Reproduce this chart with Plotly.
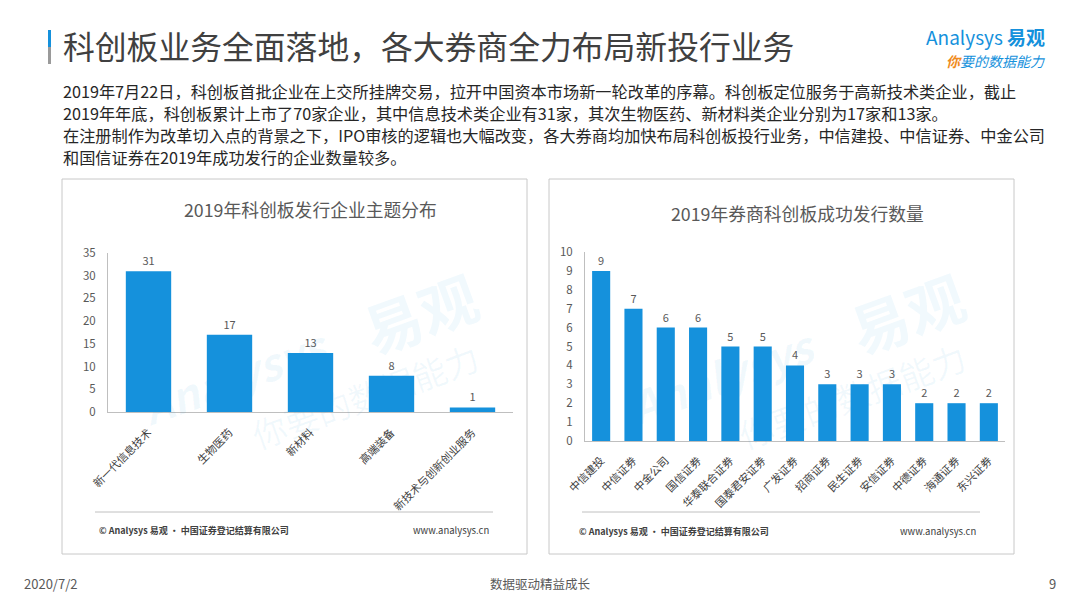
import plotly.graph_objects as go

W, H = 1080, 608
FONT = "Noto Sans CJK SC"

# ---------------- data ----------------
themes = ["新一代信息技术", "生物医药", "新材料", "高端装备", "新技术与创新创业服务"]
theme_counts = [31, 17, 13, 8, 1]

brokers = ["中信建投", "中信证券", "中金公司", "国信证券", "华泰联合证券", "国泰君安证券",
           "广发证券", "招商证券", "民生证券", "安信证券", "中德证券", "海通证券", "东兴证券"]
broker_counts = [9, 7, 6, 6, 5, 5, 4, 3, 3, 3, 2, 2, 2]

title_text = "科创板业务全面落地，各大券商全力布局新投行业务"
para_lines = [
    "2019年7月22日，科创板首批企业在上交所挂牌交易，拉开中国资本市场新一轮改革的序幕。科创板定位服务于高新技术类企业，截止",
    "2019年年底，科创板累计上市了70家企业，其中信息技术类企业有31家，其次生物医药、新材料类企业分别为17家和13家。",
    "在注册制作为改革切入点的背景之下，IPO审核的逻辑也大幅改变，各大券商均加快布局科创板投行业务，中信建投、中信证券、中金公司",
    "和国信证券在2019年成功发行的企业数量较多。",
]
chart1_title = "2019年科创板发行企业主题分布"
chart2_title = "2019年券商科创板成功发行数量"
source_text = "© Analysys 易观 · 中国证券登记结算有限公司"
site_text = "www.analysys.cn"

BAR = "#1591DC"
GRAY_TXT = "#595959"

def px(x):
    return x / W

def py(y):
    return 1 - y / H

fig = go.Figure()

fig.add_trace(go.Bar(
    x=themes, y=theme_counts, xaxis="x", yaxis="y",
    marker=dict(color=BAR, line=dict(width=0)),
    text=theme_counts, textposition="outside", cliponaxis=False,
    textfont=dict(size=11, color=GRAY_TXT, family=FONT),
    hoverinfo="x+y", showlegend=False,
))
fig.add_trace(go.Bar(
    x=brokers, y=broker_counts, xaxis="x2", yaxis="y2",
    marker=dict(color=BAR, line=dict(width=0)),
    text=broker_counts, textposition="outside", cliponaxis=False,
    textfont=dict(size=11, color=GRAY_TXT, family=FONT),
    hoverinfo="x+y", showlegend=False,
))

axis_common = dict(showline=True, linecolor="#bfbfbf", linewidth=1, showgrid=False,
                   zeroline=False, ticks="", fixedrange=True, automargin=False)

fig.update_layout(
    template="none",
    width=W, height=H, autosize=False,
    margin=dict(l=0, r=0, t=0, b=0, pad=0),
    paper_bgcolor="white", plot_bgcolor="rgba(0,0,0,0)",
    font=dict(family=FONT, color="#404040"),
    bargap=0.44, showlegend=False,
    xaxis=dict(domain=[px(108), px(513)], anchor="y", tickangle=-45,
               tickfont=dict(size=11, color="#404040"), ticklabelstandoff=9, **axis_common),
    yaxis=dict(domain=[py(412), py(253)], anchor="x", range=[0, 35], dtick=5,
               tickfont=dict(size=11.5, color=GRAY_TXT), ticklabelstandoff=9, **axis_common),
    xaxis2=dict(domain=[px(585), px(1005)], anchor="y2", tickangle=-45,
                tickfont=dict(size=11, color="#404040"), ticklabelstandoff=8, **axis_common),
    yaxis2=dict(domain=[py(441), py(252)], anchor="x2", range=[0, 10], dtick=1,
                tickfont=dict(size=11.5, color=GRAY_TXT), ticklabelstandoff=9, **axis_common),
)

shapes = []
# panel boxes
for x0, x1 in [(62, 527), (549, 1014)]:
    shapes.append(dict(type="rect", xref="paper", yref="paper",
                       x0=px(x0), x1=px(x1), y0=py(554), y1=py(179),
                       line=dict(color="#c8c8c8", width=1), fillcolor="rgba(0,0,0,0)", layer="below"))
# footer rules inside panels
for x0, x1 in [(95, 493), (582, 980)]:
    shapes.append(dict(type="line", xref="paper", yref="paper",
                       x0=px(x0), x1=px(x1), y0=py(512), y1=py(512),
                       line=dict(color="#c0c0c0", width=1)))
# title accent bar
shapes.append(dict(type="rect", xref="paper", yref="paper", x0=px(48), x1=px(51),
                   y0=py(47), y1=py(30), fillcolor="#1591DC", line=dict(width=0)))
shapes.append(dict(type="rect", xref="paper", yref="paper", x0=px(48), x1=px(51),
                   y0=py(64), y1=py(47), fillcolor="#9a9a9a", line=dict(width=0)))
fig.update_layout(shapes=shapes)

ann = []
def text(x, y, s, size, color="#404040", xanchor="left", **kw):
    ann.append(dict(x=px(x), y=py(y), xref="paper", yref="paper", text=s, showarrow=False,
                    xanchor=xanchor, yanchor="middle", font=dict(size=size, color=color, family=FONT), **kw))

# watermarks (faint)
wm = "rgba(21,145,220,0.06)"
for cx in (0, 487):
    text(235 + cx, 375, "<b><i>Analysys</i></b>", 44, wm, xanchor="center", textangle=-20)
    text(420 + cx, 312, "<b>易观</b>", 58, wm, xanchor="center", textangle=-20)
    text(365 + cx, 395, "你要的数据能力", 34, wm, xanchor="center", textangle=-20)

# main title
text(61, 45, title_text, 31.8, "#404040")
# logo
text(985, 37, "<span style='color:#1591DC'>Analysys</span> <b><span style='color:#1591DC'>易观</span></b>", 19, "#1591DC", xanchor="center")
text(995, 61, "<i><b><span style='color:#F08C1E'>你</span></b><span style='color:#1591DC'>要的数据能力</span></i>", 14, "#1591DC", xanchor="center")

# paragraph
for i, line in enumerate(para_lines):
    text(61, 91 + i * 22, line, 16.2, "#262626")

# chart titles
text(310, 209, chart1_title, 17.8, GRAY_TXT, xanchor="center")
text(797, 213, chart2_title, 17.8, GRAY_TXT, xanchor="center")

# sources
text(97, 530, "<b>" + source_text + "</b>", 9, "#404040")
text(491, 530, site_text, 9.5, "#404040", xanchor="right")
text(577, 531, "<b>" + source_text + "</b>", 9, "#404040")
text(978, 531, site_text, 9.5, "#404040", xanchor="right")

# page footer
text(22, 583, "2020/7/2", 13, GRAY_TXT)
text(540, 583, "数据驱动精益成长", 12.5, GRAY_TXT, xanchor="center")
text(1058, 583, "9", 13, GRAY_TXT, xanchor="right")

fig.update_layout(annotations=ann)

fig.write_html(
    "out.html",
    config={"displayModeBar": False, "staticPlot": False},
    post_script="document.body.style.margin='0';document.body.style.padding='0';",
)
